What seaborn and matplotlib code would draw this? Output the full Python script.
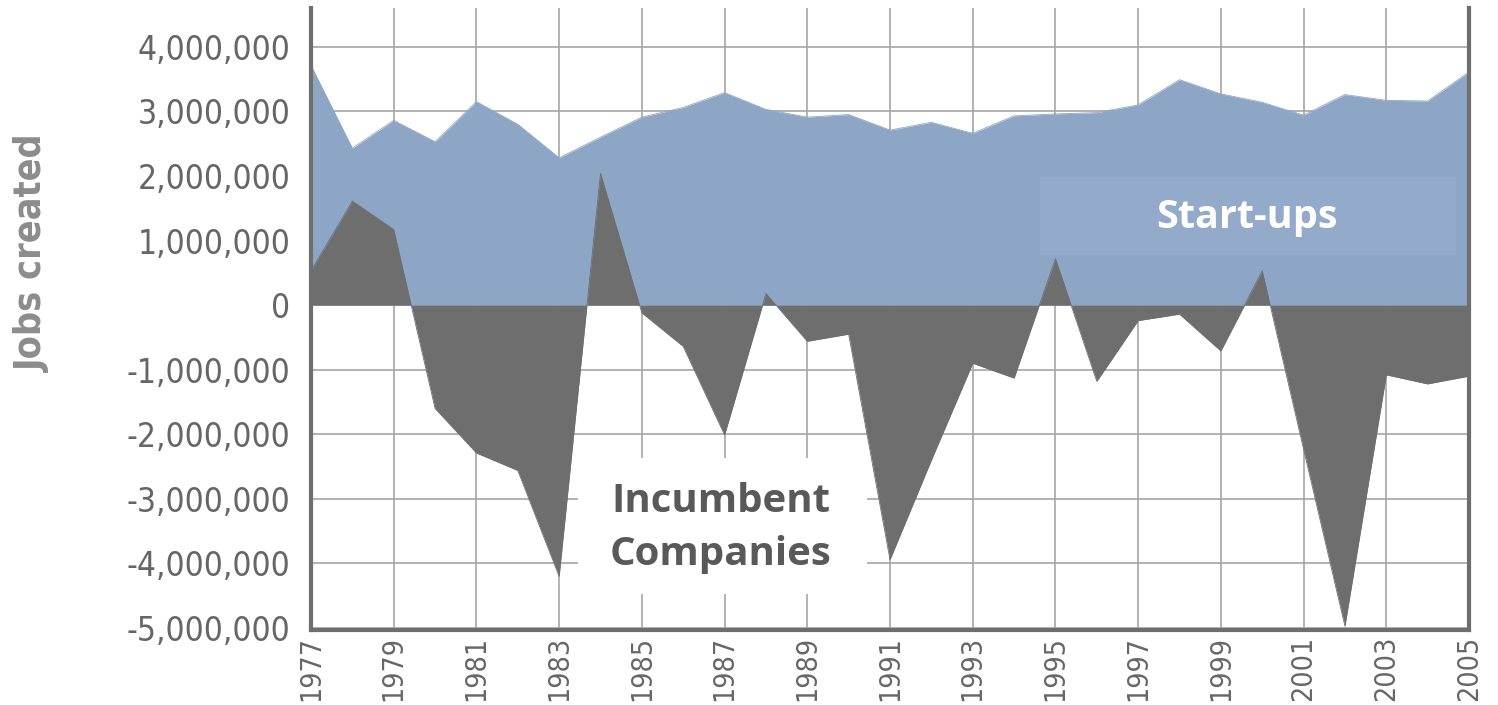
import matplotlib
matplotlib.use("Agg")
import matplotlib.pyplot as plt
from matplotlib import font_manager
from matplotlib.patches import Rectangle
from matplotlib.ticker import FuncFormatter
import pandas as pd
import seaborn as sns

# Data (millions of jobs)
years = list(range(1977, 2006))
startups = [3.71, 2.43, 2.86, 2.53, 3.15, 2.80, 2.28, 2.60, 2.91, 3.06,
            3.29, 3.03, 2.91, 2.95, 2.71, 2.83, 2.66, 2.93, 2.96, 2.98,
            3.10, 3.49, 3.27, 3.14, 2.94, 3.26, 3.17, 3.16, 3.61]
incumbents = [0.53, 1.61, 1.17, -1.60, -2.29, -2.56, -4.20, 2.04, -0.12, -0.64,
              -2.01, 0.18, -0.56, -0.45, -3.94, -2.40, -0.90, -1.13, 0.72, -1.18,
              -0.24, -0.14, -0.71, 0.53, -2.23, -4.97, -1.08, -1.22, -1.10]
y_ticks = list(range(-5, 5))
x_ticks = list(range(1977, 2006, 2))

df = pd.DataFrame({"year": years,
                   "startups": [v * 1e6 for v in startups],
                   "incumbents": [v * 1e6 for v in incumbents]})

sns.set_style("white")
plt.rcParams["font.family"] = ["DejaVu Sans"]


def find_condensed(target_weight):
    # upright condensed/narrow face closest to the wanted weight
    best, best_d = None, None
    for f in font_manager.fontManager.ttflist:
        narrow = "Condensed" in f.name or "Narrow" in f.name or f.stretch in ("condensed", "semi-condensed")
        if not narrow or f.style != "normal":
            continue
        w = f.weight if isinstance(f.weight, int) else {"normal": 400, "regular": 400, "bold": 700}.get(f.weight, 400)
        d = abs(w - target_weight)
        if best is None or d < best_d:
            best, best_d = f.fname, d
    return best


cond = find_condensed(450)
bold_cond = find_condensed(700)

if cond:
    tick_fp_y = font_manager.FontProperties(fname=cond, size=24)
    tick_fp_x = font_manager.FontProperties(fname=cond, size=20.5)
else:
    tick_fp_y = font_manager.FontProperties(family="DejaVu Sans", size=20.5)
    tick_fp_x = font_manager.FontProperties(family="DejaVu Sans", size=16)
if bold_cond:
    ylab_fp = font_manager.FontProperties(fname=bold_cond, size=27)
else:
    ylab_fp = font_manager.FontProperties(family="DejaVu Sans", weight="bold", size=24.5)

label_font = "Open Sans"

blue = "#8EA6C6"
dark = "#6E6E6E"
grid_col = "#A6A6A6"
tick_col = "#666666"

fig = plt.figure(figsize=(14.98, 7.05), dpi=100)
ax = fig.add_axes([311 / 1498, 1 - 630 / 705, (1469 - 311) / 1498, (630 - 8) / 705])

ax.fill_between(df["year"], 0, df["startups"], color=blue, linewidth=0, zorder=2)
ax.fill_between(df["year"], 0, df["incumbents"], color=dark, linewidth=0, zorder=3)
sns.lineplot(data=df, x="year", y="startups", color=blue, linewidth=0.6, ax=ax, zorder=2)
sns.lineplot(data=df, x="year", y="incumbents", color=dark, linewidth=0.6, ax=ax, zorder=3)

ax.set_xlim(1977, 2005)
ax.set_ylim(-5.03e6, 4.6e6)
ax.set_xticks(x_ticks)
ax.set_yticks([v * 1e6 for v in y_ticks])
ax.yaxis.set_major_formatter(FuncFormatter(lambda v, p: f"{int(round(v)):,}"))
ax.grid(True, color=grid_col, linewidth=1.2)
ax.set_axisbelow(True)
ax.tick_params(axis="both", length=0, colors=tick_col)
ax.tick_params(axis="y", pad=15)
ax.tick_params(axis="x", pad=4, labelrotation=90)
for lab in ax.get_yticklabels():
    lab.set_fontproperties(tick_fp_y)
for lab in ax.get_xticklabels():
    lab.set_fontproperties(tick_fp_x)
ax.set_xlabel("")
ax.set_ylabel("")

for side in ["left", "bottom", "right"]:
    ax.spines[side].set_color(dark)
    ax.spines[side].set_linewidth(3)
    ax.spines[side].set_zorder(5)
ax.spines["top"].set_visible(False)

# annotation boxes
ax.add_patch(Rectangle((1994.63, 0.77e6), 10.06, 1.21e6, facecolor="#93AACB",
                       edgecolor="none", zorder=4))
ax.text(1999.63, 1.36e6, "Start-ups", color="white", fontsize=28.5,
        fontweight="bold", family=[label_font, "DejaVu Sans"], ha="center", va="center", zorder=6)
ax.add_patch(Rectangle((1983.46, -4.48e6), 6.98, 2.11e6, facecolor="white",
                       edgecolor="none", zorder=4))
ax.text(1986.91, -3.45e6, "Incumbent\nCompanies", color="#595959", fontsize=29,
        fontweight="bold", family=[label_font, "DejaVu Sans"], ha="center", va="center",
        linespacing=1.45, zorder=6)

fig.text(33 / 1498, 1 - 253 / 705, "Jobs created", rotation=90, color="#8C8C8C",
         fontproperties=ylab_fp, ha="center", va="center")

fig.savefig("out.png", dpi=100)
